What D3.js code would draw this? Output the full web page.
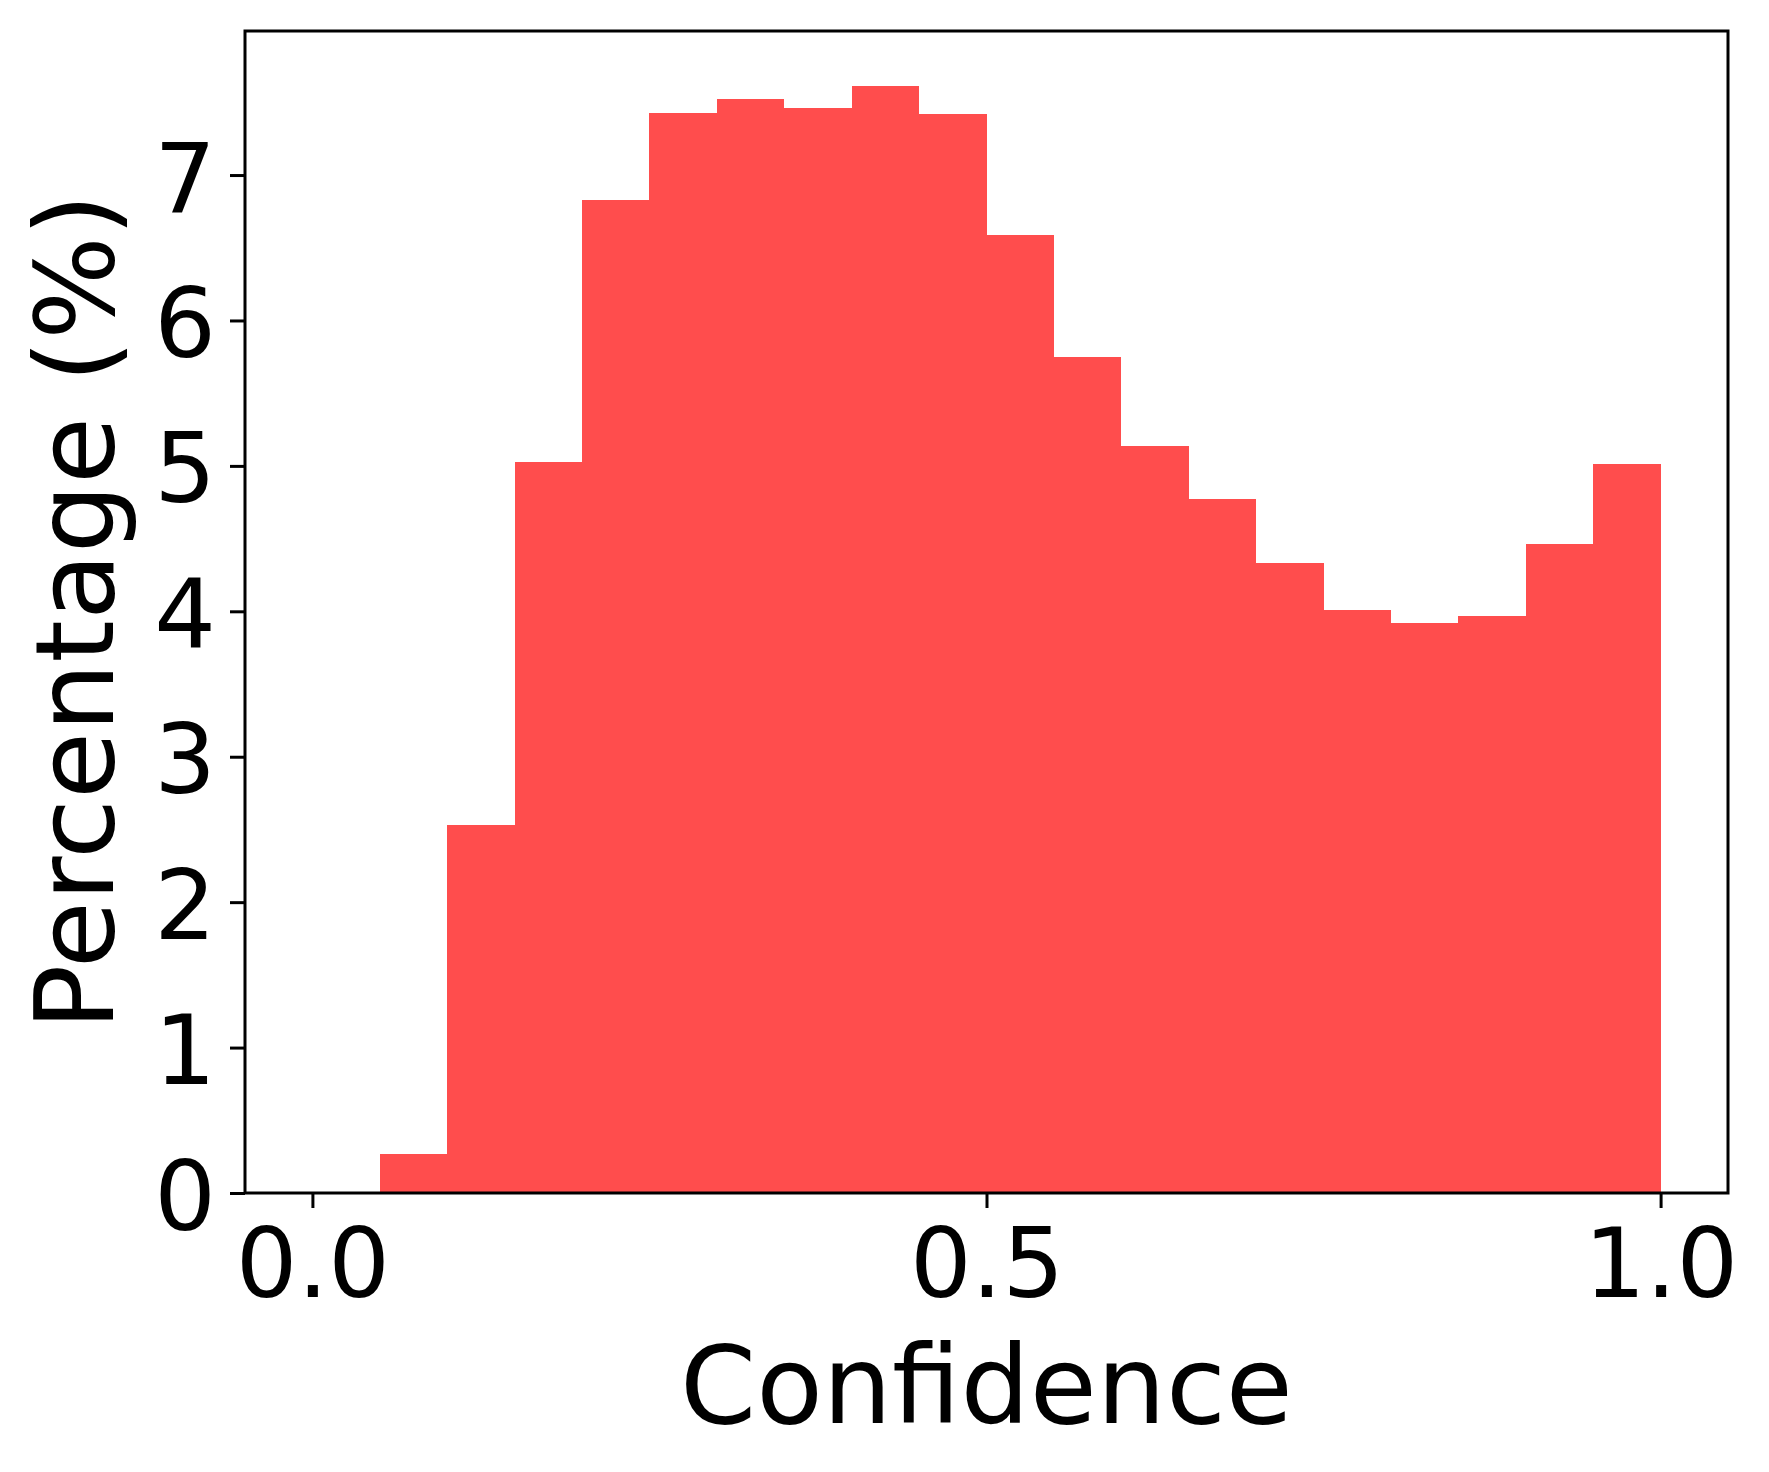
<!DOCTYPE html>
<html>
<head>
<meta charset="utf-8">
<script src="https://cdn.jsdelivr.net/npm/d3@7"></script>
<style>
  html, body { margin: 0; padding: 0; background: #ffffff; }
  svg { display: block; font-family: "DejaVu Sans", sans-serif; }
</style>
</head>
<body>
<svg id="chart" width="1769" height="1472"></svg>
<script>
// ---- Data ----
const binStarts = [0.00, 0.05, 0.10, 0.15, 0.20, 0.25, 0.30, 0.35, 0.40, 0.45,
                   0.50, 0.55, 0.60, 0.65, 0.70, 0.75, 0.80, 0.85, 0.90, 0.95];
const binWidth = 0.05;
const percentages = [0.00, 0.27, 2.53, 5.03, 6.83, 7.43, 7.52, 7.46, 7.61, 7.42,
                     6.59, 5.75, 5.14, 4.77, 4.33, 4.01, 3.92, 3.97, 4.46, 5.01];
const xTicks = [0.0, 0.5, 1.0];
const xTickLabels = ["0.0", "0.5", "1.0"];
const yTicks = [0, 1, 2, 3, 4, 5, 6, 7];
const yTickLabels = ["0", "1", "2", "3", "4", "5", "6", "7"];
const xLabel = "Confidence";
const yLabel = "Percentage (%)";

// ---- Layout ----
const plot = { left: 245, right: 1728, top: 31, bottom: 1193 };
const barColor = "#ff4d4d";
const tickFont = 97;
const labelFont = 109;

const svg = d3.select("#chart");

const x = d3.scaleLinear().domain([-0.05, 1.05]).range([plot.left, plot.right]);
const yMax = d3.max(percentages) * 1.05;
const y = d3.scaleLinear().domain([0, yMax]).range([plot.bottom, plot.top]);

// Bars
svg.append("g")
  .selectAll("rect")
  .data(binStarts.map((s, i) => ({ s, v: percentages[i] })))
  .join("rect")
  .attr("x", d => x(d.s))
  .attr("width", d => x(d.s + binWidth) - x(d.s))
  .attr("y", d => y(d.v))
  .attr("height", d => y(0) - y(d.v))
  .attr("fill", barColor)
  .attr("shape-rendering", "crispEdges");

// X axis
const xAxis = d3.axisBottom(x)
  .tickValues(xTicks)
  .tickFormat((d, i) => xTickLabels[i])
  .tickSize(15)
  .tickPadding(12);
const gx = svg.append("g")
  .attr("transform", `translate(0,${plot.bottom})`)
  .call(xAxis);
gx.select(".domain").remove();
gx.selectAll(".tick line").attr("stroke", "#000").attr("stroke-width", 3);
gx.selectAll(".tick text")
  .attr("font-size", tickFont)
  .attr("font-family", "DejaVu Sans")
  .attr("fill", "#000")
  .attr("dy", null)
  .attr("y", 104);

// Y axis
const yAxis = d3.axisLeft(y)
  .tickValues(yTicks)
  .tickFormat((d, i) => yTickLabels[i])
  .tickSize(15)
  .tickPadding(13);
const gy = svg.append("g")
  .attr("transform", `translate(${plot.left},0)`)
  .call(yAxis);
gy.select(".domain").remove();
gy.selectAll(".tick line").attr("stroke", "#000").attr("stroke-width", 3);
gy.selectAll(".tick text")
  .attr("font-size", tickFont)
  .attr("font-family", "DejaVu Sans")
  .attr("fill", "#000")
  .attr("x", -29)
  .attr("dy", null)
  .attr("y", 36);

// Spines (frame)
svg.append("rect")
  .attr("x", plot.left)
  .attr("y", plot.top)
  .attr("width", plot.right - plot.left)
  .attr("height", plot.bottom - plot.top)
  .attr("fill", "none")
  .attr("stroke", "#000")
  .attr("stroke-width", 3);

// Axis labels
svg.append("text")
  .attr("x", (plot.left + plot.right) / 2)
  .attr("y", 1423)
  .attr("text-anchor", "middle")
  .attr("font-size", labelFont)
  .attr("fill", "#000")
  .text(xLabel);

svg.append("text")
  .attr("transform", `translate(113,${(plot.top + plot.bottom) / 2}) rotate(-90)`)
  .attr("text-anchor", "middle")
  .attr("font-size", labelFont)
  .attr("fill", "#000")
  .text(yLabel);
</script>
</body>
</html>
